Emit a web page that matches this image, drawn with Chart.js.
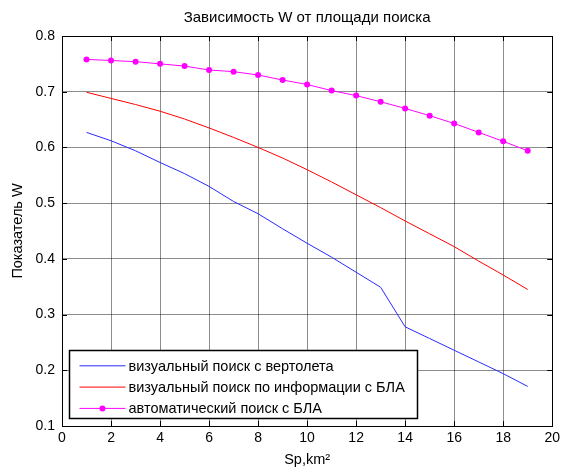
<!DOCTYPE html>
<html><head><meta charset="utf-8">
<script src="https://cdn.jsdelivr.net/npm/chart.js@4"></script>
<style>html,body{margin:0;padding:0;background:#fff}#wrap{width:564px;height:472px}</style>
</head><body><div id="wrap"><canvas id="c" width="564" height="472"></canvas></div>
<script>
const xValues = [1,2,3,4,5,6,7,8,9,10,11,12,13,14,15,16,17,18,19];
const heliVisual = [0.627,0.612,0.594,0.573,0.553,0.530,0.503,0.481,0.454,0.428,0.403,0.376,0.349,0.278,0.257,0.236,0.215,0.194,0.171];
const uavInfoVisual = [0.699,0.688,0.677,0.665,0.651,0.635,0.618,0.600,0.581,0.560,0.538,0.515,0.492,0.468,0.445,0.422,0.396,0.371,0.345];
const uavAuto = [0.758,0.756,0.754,0.750,0.746,0.739,0.736,0.730,0.721,0.713,0.702,0.693,0.682,0.670,0.657,0.643,0.627,0.611,0.594];
const seriesNames = ['визуальный поиск с вертолета','визуальный поиск по информации с БЛА','автоматический поиск с БЛА'];
const chartTitle = 'Зависимость W от площади поиска';
const xTitle = 'Sp,km\u00B2';
const yTitle = 'Показатель W';

const FONT = 'Arial, "Liberation Sans", sans-serif';
const pts = arr => xValues.map((x,i)=>({x:x,y:arr[i]}));

const framePlugin = {
  id:'frame',
  afterDraw(chart){
    const {ctx, chartArea:a} = chart;
    ctx.save();
    ctx.strokeStyle = '#000'; ctx.lineWidth = 1;
    ctx.strokeRect(Math.round(a.left)+0.5, Math.round(a.top)+0.5, Math.round(a.right-a.left), Math.round(a.bottom-a.top));
    const xs = chart.scales.x, ys = chart.scales.y;
    ctx.beginPath();
    xs.ticks.forEach(t=>{const px=Math.round(xs.getPixelForValue(t.value))+0.5;
      ctx.moveTo(px,a.bottom);ctx.lineTo(px,a.bottom-5);ctx.moveTo(px,a.top);ctx.lineTo(px,a.top+5);});
    ys.ticks.forEach(t=>{const py=Math.round(ys.getPixelForValue(t.value))+0.5;
      ctx.moveTo(a.left,py);ctx.lineTo(a.left+5,py);ctx.moveTo(a.right,py);ctx.lineTo(a.right-5,py);});
    ctx.stroke();
    // legend box
    const bx = Math.round(a.left)+7.5, by = Math.round(a.bottom)-75.5, bw = 348, bh = 68;
    ctx.fillStyle='#fff'; ctx.fillRect(bx,by,bw,bh);
    ctx.lineWidth=1.5; ctx.strokeStyle='#000'; ctx.strokeRect(bx,by,bw,bh);
    ctx.font = '14.5px '+FONT; ctx.textBaseline='middle'; ctx.textAlign='left';
    chart.data.datasets.forEach((ds,i)=>{
      const yy = by + 15.3 + i*21.3;
      ctx.strokeStyle = ds.borderColor; ctx.lineWidth=1;
      ctx.beginPath(); ctx.moveTo(bx+10,yy); ctx.lineTo(bx+56,yy); ctx.stroke();
      if (ds.pointRadius>0){ctx.fillStyle=ds.pointBackgroundColor;ctx.beginPath();ctx.arc(bx+33,yy,3,0,Math.PI*2);ctx.fill();}
      ctx.fillStyle='#000'; ctx.fillText(ds.label, bx+59, yy+1);
    });
    ctx.restore();
  }
};

new Chart(document.getElementById('c'), {
  type:'line',
  data:{datasets:[
    {label:seriesNames[0], data:pts(heliVisual), borderColor:'#2a2aff', borderWidth:1, pointRadius:0, tension:0},
    {label:seriesNames[1], data:pts(uavInfoVisual), borderColor:'#ff0000', borderWidth:1, pointRadius:0, tension:0},
    {label:seriesNames[2], data:pts(uavAuto), borderColor:'#ff00ff', borderWidth:1, pointRadius:3, pointBackgroundColor:'#ff00ff', pointBorderColor:'#ff00ff', pointBorderWidth:0, tension:0}
  ]},
  options:{
    responsive:false, animation:false, devicePixelRatio:1,
    layout:{padding:{left:0,right:7,top:0,bottom:0}},
    plugins:{
      legend:{display:false}, tooltip:{enabled:false},
      title:{display:true, fullSize:false, text:chartTitle, color:'#000', font:{family:FONT,size:15,weight:'normal',lineHeight:1.2}, padding:{top:9,bottom:9}}
    },
    scales:{
      x:{type:'linear', min:0, max:20,
        ticks:{stepSize:2, color:'#000', font:{family:FONT,size:14}, padding:4, maxRotation:0},
        grid:{color:'rgba(0,0,0,0.45)', drawTicks:false},
        border:{display:false},
        title:{display:true, text:xTitle, color:'#000', font:{family:FONT,size:14.5,lineHeight:1.2}, padding:{top:0,bottom:3}},
        afterFit(s){s.height=46;}
      },
      y:{min:0.1, max:0.8,
        ticks:{stepSize:0.1, color:'#000', font:{family:FONT,size:14}, padding:7, callback:v=>(+v).toFixed(1)},
        grid:{color:'rgba(0,0,0,0.45)', drawTicks:false},
        border:{display:false},
        title:{display:true, text:yTitle, color:'#000', font:{family:FONT,size:14.5,lineHeight:1.2}, padding:{top:9,bottom:0}},
        afterFit(s){s.width=62;}
      }
    }
  },
  plugins:[framePlugin]
});
</script></body></html>
